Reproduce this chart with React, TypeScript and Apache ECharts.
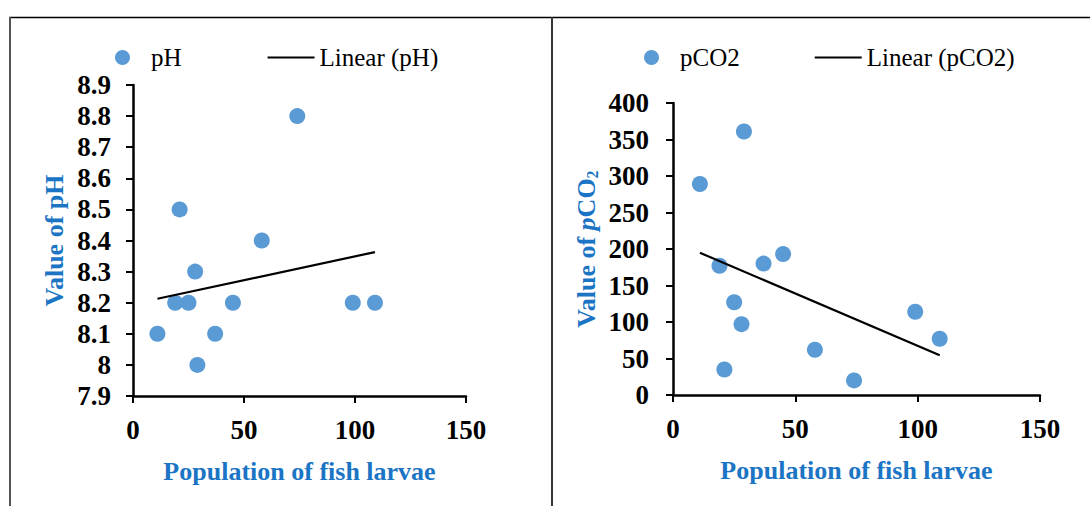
import React, { useEffect, useRef } from "react";
import * as echarts from "echarts";

const larvae = [11, 19, 21, 25, 28, 29, 37, 45, 58, 74, 99, 109];
const phValues = [8.1, 8.2, 8.5, 8.2, 8.3, 8.0, 8.1, 8.2, 8.4, 8.8, 8.2, 8.2];
const pco2Values = [289, 177, 35, 127, 97, 361, 180, 193, 62, 20, 114, 77];

const FONT = "'Liberation Serif', 'Times New Roman', serif";
const BLUE_TITLE = "#1B75C4";
const DOT = "#5B9BD5";
const LINE_ICON = "path://M0,0 L47,0 L47,2 L0,2 Z";

function linearFit(xs: number[], ys: number[]) {
  const n = xs.length;
  const mx = xs.reduce((a, b) => a + b, 0) / n;
  const my = ys.reduce((a, b) => a + b, 0) / n;
  let sxy = 0, sxx = 0;
  for (let i = 0; i < n; i++) {
    sxy += (xs[i] - mx) * (ys[i] - my);
    sxx += (xs[i] - mx) * (xs[i] - mx);
  }
  const slope = sxy / sxx;
  const icpt = my - slope * mx;
  const x0 = Math.min(...xs), x1 = Math.max(...xs);
  return [[x0, icpt + slope * x0], [x1, icpt + slope * x1]];
}

export default function App() {
  const ref = useRef<HTMLDivElement>(null);
  useEffect(() => {
    if (!ref.current) return;
    const chart = echarts.init(ref.current, undefined, { renderer: "svg" });
    const axisLine = { show: true, lineStyle: { color: "#000", width: 2.5 } };
    const axisTick = { show: true, inside: false, length: 7, lineStyle: { color: "#000", width: 2 } };
    const labelStyle = { fontFamily: FONT, fontSize: 27, fontWeight: "bold" as const, color: "#000" };
    const nameStyle = { fontFamily: FONT, fontSize: 26, fontWeight: "bold" as const, color: BLUE_TITLE };
    const legendText = { fontFamily: FONT, fontSize: 25, color: "#000" };

    chart.setOption({
      animation: false,
      backgroundColor: "#fff",
      legend: [
        {
          left: 110, top: 40, itemWidth: 47, itemHeight: 15, itemGap: 86,
          textStyle: legendText, symbolKeepAspect: true,
          data: [
            { name: "pH", icon: "circle", itemStyle: { color: DOT, opacity: 1 } },
            { name: "Linear (pH)", icon: LINE_ICON, itemStyle: { color: "#000" } },
          ],
        },
        {
          left: 639, top: 40, itemWidth: 47, itemHeight: 15, itemGap: 75,
          textStyle: legendText, symbolKeepAspect: true,
          data: [
            { name: "pCO2", icon: "circle", itemStyle: { color: DOT, opacity: 1 } },
            { name: "Linear (pCO2)", icon: LINE_ICON, itemStyle: { color: "#000" } },
          ],
        },
      ],
      grid: [
        { left: 133, top: 85, width: 333, height: 311 },
        { left: 673, top: 103, width: 367, height: 292 },
      ],
      xAxis: [
        {
          gridIndex: 0, type: "value", min: 0, max: 150, interval: 50,
          axisLine, axisTick, splitLine: { show: false },
          axisLabel: { ...labelStyle, margin: 20 },
          name: "Population of fish larvae", nameLocation: "middle", nameGap: 62,
          nameTextStyle: nameStyle,
        },
        {
          gridIndex: 1, type: "value", min: 0, max: 150, interval: 50,
          axisLine, axisTick, splitLine: { show: false },
          axisLabel: { ...labelStyle, margin: 20 },
          name: "Population of fish larvae", nameLocation: "middle", nameGap: 62,
          nameTextStyle: nameStyle,
        },
      ],
      yAxis: [
        {
          gridIndex: 0, type: "value", min: 7.9, max: 8.9, interval: 0.1,
          axisLine, axisTick, splitLine: { show: false },
          axisLabel: { ...labelStyle, margin: 22, formatter: (v: number) => String(+v.toFixed(1)) },
          name: "Value of pH", nameLocation: "middle", nameGap: 66, nameRotate: 90,
          nameTextStyle: nameStyle,
        },
        {
          gridIndex: 1, type: "value", min: 0, max: 400, interval: 50,
          axisLine, axisTick, splitLine: { show: false },
          axisLabel: { ...labelStyle, margin: 24 },
          name: "Value of {i|p}CO{s|2}", nameLocation: "middle", nameGap: 73, nameRotate: 90,
          nameTextStyle: {
            ...nameStyle,
            rich: {
              i: { fontFamily: FONT, fontSize: 26, fontWeight: "bold", fontStyle: "italic", color: BLUE_TITLE },
              s: { fontFamily: FONT, fontSize: 16, fontWeight: "bold", color: BLUE_TITLE, padding: [12, 0, 0, 0] },
            },
          },
        },
      ],
      series: [
        {
          name: "pH", type: "scatter", xAxisIndex: 0, yAxisIndex: 0,
          symbolSize: 16, itemStyle: { color: DOT, opacity: 1 },
          data: larvae.map((x, i) => [x, phValues[i]]),
        },
        {
          name: "Linear (pH)", type: "line", xAxisIndex: 0, yAxisIndex: 0,
          symbol: "none", lineStyle: { color: "#000", width: 2.2 }, itemStyle: { color: "#000" },
          data: linearFit(larvae, phValues),
        },
        {
          name: "pCO2", type: "scatter", xAxisIndex: 1, yAxisIndex: 1,
          symbolSize: 16, itemStyle: { color: DOT, opacity: 1 },
          data: larvae.map((x, i) => [x, pco2Values[i]]),
        },
        {
          name: "Linear (pCO2)", type: "line", xAxisIndex: 1, yAxisIndex: 1,
          symbol: "none", lineStyle: { color: "#000", width: 2.2 }, itemStyle: { color: "#000" },
          data: linearFit(larvae, pco2Values),
        },
      ],
      graphic: [
        { type: "line", shape: { x1: 9, y1: 17.5, x2: 1090, y2: 17.5 }, style: { stroke: "#000", lineWidth: 1.5 } },
        { type: "line", shape: { x1: 10, y1: 17, x2: 10, y2: 506 }, style: { stroke: "#555", lineWidth: 2 } },
        { type: "line", shape: { x1: 552, y1: 17, x2: 552, y2: 506 }, style: { stroke: "#333", lineWidth: 2 } },
      ],
    });
    return () => chart.dispose();
  }, []);
  return (
    <div
      ref={ref}
      style={{ position: "fixed", left: 0, top: 0, width: 1090, height: 506, background: "#fff" }}
    />
  );
}
